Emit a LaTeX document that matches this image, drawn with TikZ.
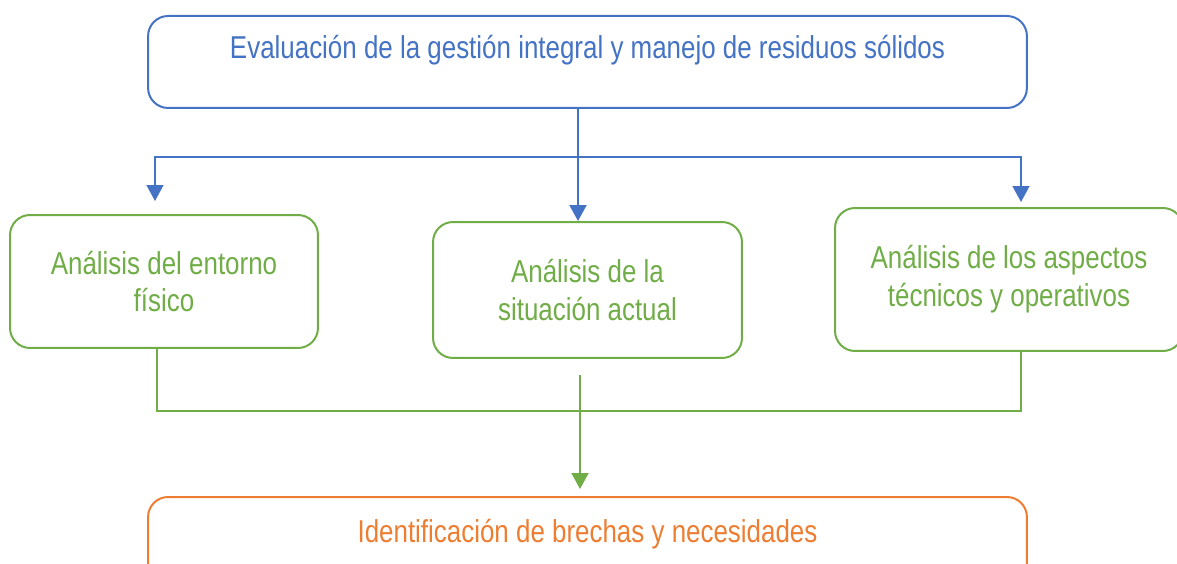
\documentclass[tikz,border=0pt]{standalone}
\usepackage{fontspec}
\setmainfont[FakeStretch=0.82]{Liberation Sans}
\usepackage{xcolor}
\usepackage{tikz}
\usetikzlibrary{arrows.meta}

\definecolor{azul}{HTML}{4472C4}
\definecolor{verde}{HTML}{70AD47}
\definecolor{naranja}{HTML}{ED7D31}

\begin{document}
\begin{tikzpicture}[x=0.02cm, y=-0.02cm,
    caja/.style={draw, rounded corners=0.4cm, line width=0.4mm, inner sep=0pt, align=center,
                 font=\fontsize{18}{21.5}\selectfont},
    punta/.tip={Triangle[length=0.32cm, width=0.34cm]},
    flecha/.style={line width=0.4mm, -punta}]
            \clip (0,0) rectangle (1177,564);

            \node[caja, draw=azul, text=azul, anchor=north, minimum width=17.58cm,
                  text height=0.86cm, text depth=0.98cm] (eval) at (587.5, 15)
                  {Evaluación de la gestión integral y manejo de residuos sólidos};

            \node[caja, draw=verde, text=verde, minimum width=6.16cm, minimum height=2.66cm] (fisico) at (164, 281.5)
                  {Análisis del entorno\\físico};
            \node[caja, draw=verde, text=verde, minimum width=6.18cm, minimum height=2.72cm] (actual) at (587.5, 290)
                  {Análisis de la\\situación actual};
            \node[caja, draw=verde, text=verde, minimum width=6.96cm, minimum height=2.86cm] (tecnico) at (1009, 279.5)
                  {Análisis de los aspectos\\técnicos y operativos};

            \node[caja, draw=naranja, text=naranja, anchor=north, minimum width=17.58cm,
                  text height=0.92cm, text depth=0.8cm] (brechas) at (587.5, 496)
                  {Identificación de brechas y necesidades};

            % ramas azules
            \coordinate (bm) at (578, 157);
            \coordinate (bl) at (155, 157);
            \coordinate (br) at (1021, 157);
            \coordinate (blt) at (155, 201);
            \coordinate (brt) at (1021, 202);
            \draw[flecha, azul] (eval.south -| bm) -- (actual.north -| bm);
            \draw[azul, line width=0.3mm, punta-punta] (blt) -- (bl) -- (br) -- (brt);

            % ramas verdes
            \coordinate (gl) at (157, 411);
            \coordinate (gr) at (1021, 411);
            \coordinate (ga) at (580, 375);
            \coordinate (gb) at (580, 489);
            \draw[verde, line width=0.3mm] (fisico.south -| gl) -- (gl) -- (gr) -- (tecnico.south -| gr);
            \draw[flecha, verde] (ga) -- (gb);
        \end{tikzpicture}
\end{document}
